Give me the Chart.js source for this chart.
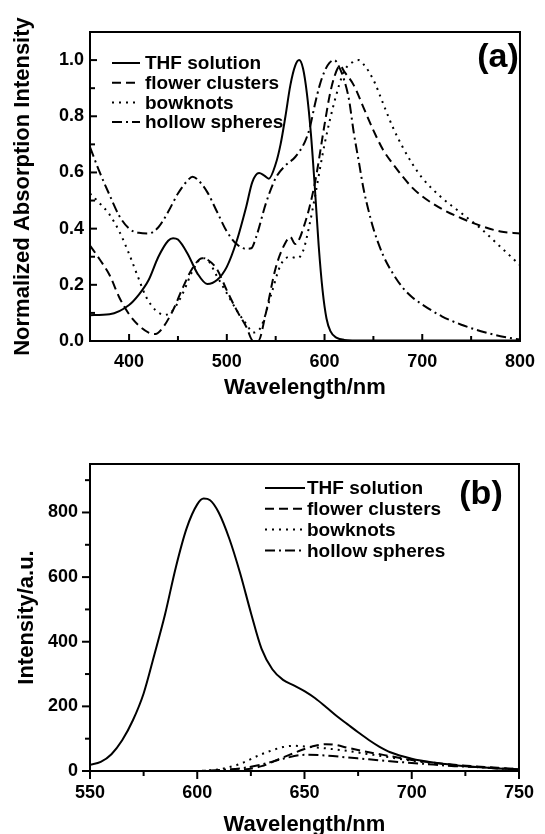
<!DOCTYPE html>
<html>
<head>
<meta charset="utf-8">
<script src="https://cdn.jsdelivr.net/npm/chart.js@4.4.1/dist/chart.umd.min.js"></script>
<style>
  html, body { margin: 0; padding: 0; background: #fff; overflow: hidden; width: 545px; height: 834px; }
  canvas { position: absolute; left: 0; }
  #ca { top: 0; }
  #cb { top: 400px; }
</style>
</head>
<body>
<canvas id="ca" width="545" height="401"></canvas>
<canvas id="cb" width="545" height="440"></canvas>
<script>
// ---------- Panel (a): normalized absorption ----------
const seriesNames = ['THF solution', 'flower clusters', 'bowknots', 'hollow spheres'];

const aThfX = [360,380,400,410,420,430,440,445,450,460,470,480,490,500,510,520,526,533,538,543,550,555,560,565,570,574,578,582,586,590,594,598,602,606,612,620,640,700,800];
const aThfY = [0.092,0.095,0.128,0.165,0.217,0.30,0.357,0.366,0.361,0.31,0.24,0.203,0.217,0.264,0.355,0.48,0.565,0.598,0.59,0.578,0.63,0.70,0.80,0.91,0.98,1.0,0.97,0.88,0.74,0.55,0.34,0.18,0.08,0.035,0.012,0.004,0.002,0.002,0.002];

const aFlowerX = [360,370,380,390,400,410,420,427,435,445,455,465,475,480,490,500,510,520,527,532,540,550,560,565,570,580,590,600,605,610,616,620,630,640,650,660,670,680,690,700,720,740,760,780,800];
const aFlowerY = [0.34,0.29,0.235,0.155,0.095,0.055,0.03,0.025,0.05,0.11,0.19,0.26,0.295,0.29,0.255,0.18,0.11,0.05,0.0,0.0,0.1,0.26,0.35,0.37,0.345,0.42,0.56,0.77,0.87,0.94,0.98,0.96,0.91,0.83,0.75,0.68,0.63,0.585,0.545,0.515,0.47,0.437,0.41,0.39,0.383];

const aBowX = [360,370,380,390,400,410,417,427,437,445,455,465,475,480,490,500,510,520,527,535,545,555,565,572,578,585,590,600,610,620,630,635,640,650,660,670,680,690,700,720,740,760,780,800];
const aBowY = [0.525,0.49,0.45,0.39,0.31,0.22,0.16,0.11,0.093,0.11,0.17,0.25,0.295,0.29,0.23,0.17,0.11,0.06,0.03,0.05,0.16,0.27,0.30,0.295,0.32,0.42,0.51,0.70,0.85,0.96,0.995,1.0,0.985,0.93,0.845,0.76,0.69,0.63,0.58,0.51,0.455,0.40,0.335,0.27];

const aHollowX = [360,370,380,390,400,410,420,430,440,450,460,465,470,480,490,500,510,520,525,530,540,550,560,570,580,585,590,595,600,605,610,615,620,625,630,635,640,645,650,660,670,680,690,700,720,740,760,780,800];
const aHollowY = [0.69,0.60,0.52,0.445,0.40,0.385,0.383,0.405,0.46,0.525,0.572,0.585,0.575,0.53,0.46,0.39,0.345,0.328,0.33,0.37,0.49,0.58,0.625,0.655,0.71,0.76,0.84,0.91,0.96,0.99,1.0,0.975,0.93,0.86,0.74,0.64,0.54,0.465,0.40,0.305,0.24,0.19,0.155,0.13,0.088,0.058,0.035,0.017,0.005];

const aXTicks = [400,500,600,700,800];
const aXMinor = [450,550,650,750];
const aYTicks = [0,0.2,0.4,0.6,0.8,1.0];
const aYMinor = [0.1,0.3,0.5,0.7,0.9];

// ---------- Panel (b): emission intensity ----------
const bThfX = [550,555,560,565,570,575,580,585,590,595,600,603,606,610,615,620,625,630,635,640,645,650,655,660,665,670,675,680,685,690,700,710,720,730,740,750];
const bThfY = [19,28,52,95,157,240,360,485,630,750,825,843,838,800,718,612,490,378,315,282,265,247,225,198,170,145,120,96,75,58,38,26,18,12,8,5];

const bFlowerX = [550,600,610,620,630,640,650,655,660,665,670,680,690,700,710,720,730,740,750];
const bFlowerY = [0,0,0,3,15,42,68,78,83,80,72,58,46,34,26,19,14,10,6];

const bBowX = [550,600,605,610,615,620,630,640,645,650,660,670,680,690,700,710,720,730,740,750];
const bBowY = [0,0,2,5,12,22,52,74,78,76,70,62,52,42,32,24,18,13,9,6];

const bHollowX = [550,600,610,620,630,640,650,660,670,680,690,700,710,720,730,740,750];
const bHollowY = [0,0,3,8,20,38,50,48,42,36,30,25,20,15,12,8,5];

const bXTicks = [550,600,650,700,750];
const bXMinor = [575,625,675,725];
const bYTicks = [0,200,400,600,800];
const bYMinor = [100,300,500,700,900];

// ---------- styles ----------
const FAMILY = '"Liberation Sans", Arial, Helvetica, sans-serif';
const dashes = [[], [9,5], [2,5], [10,4,2,4]];

function pts(xs, ys) { return xs.map((x, i) => ({ x: x, y: ys[i] })); }

function makeDatasets(list) {
  return list.map((d, i) => ({
    label: seriesNames[i],
    data: pts(d[0], d[1]),
    borderColor: '#000',
    borderWidth: 2,
    borderDash: dashes[i],
    pointRadius: 0,
    fill: false,
    tension: 0.4,
    cubicInterpolationMode: 'monotone'
  }));
}

const framePlugin = {
  id: 'frameTicks',
  afterDatasetsDraw(chart, args, o) {
    const { ctx, chartArea: a, scales } = chart;
    const x = scales.x, y = scales.y;
    ctx.save();
    ctx.strokeStyle = '#000';
    ctx.lineWidth = 2;
    ctx.setLineDash([]);
    ctx.strokeRect(a.left, a.top, a.right - a.left, a.bottom - a.top);
    const dir = o.inward ? -1 : 1;
    const tx = (vals, len) => vals.forEach(v => {
      const p = x.getPixelForValue(v);
      ctx.beginPath(); ctx.moveTo(p, a.bottom); ctx.lineTo(p, a.bottom + dir * len); ctx.stroke();
    });
    const ty = (vals, len) => vals.forEach(v => {
      const p = y.getPixelForValue(v);
      ctx.beginPath(); ctx.moveTo(a.left, p); ctx.lineTo(a.left - dir * len, p); ctx.stroke();
    });
    tx(o.xMajor, o.majorLen); tx(o.xMinor, o.minorLen);
    ty(o.yMajor, o.majorLen); ty(o.yMinor, o.minorLen);
    ctx.restore();
  }
};

const legendPlugin = {
  id: 'innerLegend',
  afterDraw(chart, args, o) {
    const ctx = chart.ctx;
    ctx.save();
    chart.data.datasets.forEach((ds, i) => {
      const yy = o.y0 + i * o.dy;
      ctx.strokeStyle = '#000';
      ctx.lineWidth = 2;
      ctx.setLineDash(ds.borderDash || []);
      ctx.beginPath(); ctx.moveTo(o.x0, yy); ctx.lineTo(o.x1, yy); ctx.stroke();
      ctx.setLineDash([]);
      ctx.fillStyle = '#000';
      ctx.font = 'bold ' + o.size + 'px ' + FAMILY;
      ctx.textBaseline = 'middle';
      ctx.textAlign = 'left';
      ctx.fillText(ds.label, o.tx, yy + 1);
    });
    ctx.font = 'bold ' + o.tagSize + 'px ' + FAMILY;
    ctx.textAlign = 'center';
    ctx.textBaseline = 'middle';
    ctx.fillText(o.tag, o.tagX, o.tagY);
    ctx.restore();
  }
};

function makeChart(id, datasets, cfg) {
  return new Chart(document.getElementById(id), {
    type: 'line',
    data: { datasets: datasets },
    plugins: [framePlugin, legendPlugin],
    options: {
      responsive: false,
      animation: false,
      events: [],
      layout: { padding: { left: 0, right: 17, top: cfg.padTop, bottom: 0 } },
      plugins: {
        legend: { display: false },
        tooltip: { enabled: false },
        frameTicks: cfg.ticks,
        innerLegend: cfg.legend
      },
      scales: {
        x: {
          type: 'linear',
          min: cfg.xMin, max: cfg.xMax,
          afterFit: s => { s.height = cfg.xH; },
          afterBuildTicks: s => { s.ticks = cfg.xTicks.map(v => ({ value: v })); },
          grid: { display: false, drawTicks: false },
          border: { display: false },
          ticks: { color: '#000', padding: cfg.xPad, maxRotation: 0, autoSkip: false,
                   font: { family: FAMILY, size: 18, weight: 'bold' },
                   callback: v => cfg.xFmt(v) },
          title: { display: true, text: 'Wavelength/nm', color: '#000',
                   font: { family: FAMILY, size: 22, weight: 'bold' },
                   padding: { top: 0, bottom: cfg.xTitlePad } }
        },
        y: {
          type: 'linear',
          min: cfg.yMin, max: cfg.yMax,
          afterFit: s => { s.width = 90; },
          afterBuildTicks: s => { s.ticks = cfg.yTicks.map(v => ({ value: v })); },
          grid: { display: false, drawTicks: false },
          border: { display: false },
          ticks: { color: '#000', padding: cfg.yPad, autoSkip: false,
                   font: { family: FAMILY, size: 18, weight: 'bold' },
                   callback: v => cfg.yFmt(v) },
          title: { display: true, text: cfg.yTitle, color: '#000',
                   font: { family: FAMILY, size: 22, weight: 'bold' },
                   padding: { top: cfg.yTitlePad, bottom: 0 } }
        }
      }
    }
  });
}

makeChart('ca',
  makeDatasets([[aThfX, aThfY], [aFlowerX, aFlowerY], [aBowX, aBowY], [aHollowX, aHollowY]]),
  {
    padTop: 32, xH: 60, xMin: 360, xMax: 800, yMin: 0, yMax: 1.1,
    xTicks: aXTicks, yTicks: aYTicks,
    xFmt: v => String(v), yFmt: v => Number(v).toFixed(1),
    xPad: 10, yPad: 6, xTitlePad: 0, yTitlePad: 10,
    yTitle: 'Normalized Absorption Intensity',
    ticks: { inward: true, majorLen: 7, minorLen: 5, xMajor: aXTicks, xMinor: aXMinor, yMajor: aYTicks, yMinor: aYMinor },
    legend: { x0: 112, x1: 140, tx: 145, y0: 63, dy: 19.7, size: 19, tag: '(a)', tagSize: 34, tagX: 498, tagY: 58 }
  });

makeChart('cb',
  makeDatasets([[bThfX, bThfY], [bFlowerX, bFlowerY], [bBowX, bBowY], [bHollowX, bHollowY]]),
  {
    padTop: 64, xH: 69, xMin: 550, xMax: 750, yMin: 0, yMax: 950,
    xTicks: bXTicks, yTicks: bYTicks,
    xFmt: v => String(v), yFmt: v => String(v),
    xPad: 11, yPad: 12, xTitlePad: 2, yTitlePad: 14,
    yTitle: 'Intensity/a.u.',
    ticks: { inward: false, majorLen: 8, minorLen: 5, xMajor: bXTicks, xMinor: bXMinor, yMajor: bYTicks, yMinor: bYMinor },
    legend: { x0: 265, x1: 305, tx: 307, y0: 88, dy: 20.8, size: 19, tag: '(b)', tagSize: 34, tagX: 481, tagY: 95 }
  });
</script>
</body>
</html>
